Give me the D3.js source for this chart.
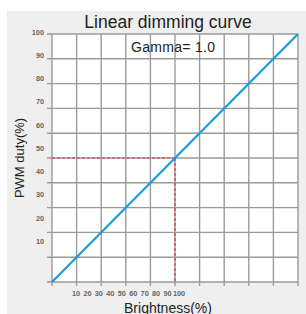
<!DOCTYPE html>
<meta charset="utf-8">
<head>
  <title>Linear dimming curve</title>
  <style>
    body { margin: 0; background: #fff; }
    text { font-family: "Liberation Sans", Arial, sans-serif; }
  </style>
</head>
<body>
<div id="chart"></div>
<script src="https://d3js.org/d3.v7.min.js"></script>
<script>

// data
var brightness = [0, 100];
var duty = [0, 100];
var markX = [50];          // dashed red guide, brightness
var markY = [50];          // dashed red guide, duty
var gridSteps = [0, 10, 20, 30, 40, 50, 60, 70, 80, 90, 100];
var xTickLabels = [10, 20, 30, 40, 50, 60, 70, 80, 90, 100];
var yTickLabels = [10, 20, 30, 40, 50, 60, 70, 80, 90, 100];

var W = 306, H = 314;
var pLeft = 52, pRight = 298, pTop = 34, pBottom = 282;

var svg = d3.select("#chart").append("svg")
    .attr("width", W)
    .attr("height", H);

// grey panel
svg.append("rect")
    .attr("x", 7).attr("y", 11)
    .attr("width", W - 7).attr("height", H - 11)
    .style("fill", "#eeefee");

var x = d3.scaleLinear().domain([0, 100]).range([pLeft, pRight]);
var y = d3.scaleLinear().domain([0, 100]).range([pBottom, pTop]);

// the labels in the original do not sit on the grid, they have their own spacing
var xl = d3.scaleLinear().domain([10, 100]).range([76, 179]);
var yl = d3.scaleLinear().domain([10, 100]).range([243, 34]);

svg.append("rect")
    .attr("x", pLeft).attr("y", pTop)
    .attr("width", pRight - pLeft).attr("height", pBottom - pTop)
    .style("fill", "#fff");

// grid
svg.append("g").selectAll("line")
    .data(gridSteps)
  .enter().append("line")
    .attr("x1", function(d) { return x(d); })
    .attr("x2", function(d) { return x(d); })
    .attr("y1", pTop)
    .attr("y2", pBottom + 4)
    .style("stroke", "#9a9a9a")
    .style("stroke-width", "1.4px");

svg.append("g").selectAll("line")
    .data(gridSteps)
  .enter().append("line")
    .attr("y1", function(d) { return y(d); })
    .attr("y2", function(d) { return y(d); })
    .attr("x1", pLeft - 5)
    .attr("x2", pRight)
    .style("stroke", "#9a9a9a")
    .style("stroke-width", "1.4px");

// dashed guide lines
svg.append("line")
    .attr("x1", x(0)).attr("x2", x(markX[0]))
    .attr("y1", y(markY[0])).attr("y2", y(markY[0]))
    .style("stroke", "#e2323f")
    .style("stroke-width", "1.2px")
    .style("stroke-dasharray", "3,2");
svg.append("line")
    .attr("x1", x(markX[0])).attr("x2", x(markX[0]))
    .attr("y1", y(markY[0])).attr("y2", y(0))
    .style("stroke", "#e2323f")
    .style("stroke-width", "1.2px")
    .style("stroke-dasharray", "3,2");

// the curve
var pts = brightness.map(function(b, i) { return [b, duty[i]]; });
svg.append("path")
    .datum(pts)
    .attr("d", d3.line()
        .x(function(d) { return x(d[0]); })
        .y(function(d) { return y(d[1]); }))
    .style("fill", "none")
    .style("stroke", "#1a9be0")
    .style("stroke-width", "2.2px");

// tick labels
svg.append("g").selectAll("text")
    .data(yTickLabels)
  .enter().append("text")
    .attr("x", 44)
    .attr("y", function(d) { return yl(d); })
    .attr("dy", "0.1em")
    .attr("text-anchor", "end")
    .style("font-size", "7.3px")
    .style("font-weight", "bold")
    .style("fill", "#666")
    .text(function(d) { return d; });

svg.append("g").selectAll("text")
    .data(xTickLabels)
  .enter().append("text")
    .attr("x", function(d) { return xl(d); })
    .attr("y", 296)
    .attr("text-anchor", "middle")
    .style("font-size", "7.3px")
    .style("font-weight", "bold")
    .style("fill", "#666")
    .text(function(d) { return d; });

// titles
svg.append("text")
    .attr("x", 168).attr("y", 28)
    .attr("text-anchor", "middle")
    .style("font-size", "17.5px")
    .style("fill", "#222")
    .text("Linear dimming curve");

svg.append("text")
    .attr("x", 131).attr("y", 52)
    .attr("textLength", 84)
    .style("font-size", "14px")
    .style("fill", "#222")
    .text("Gamma= 1.0");

svg.append("text")
    .attr("transform", "translate(24,158) rotate(-90)")
    .attr("text-anchor", "middle")
    .style("font-size", "13px")
    .style("fill", "#222")
    .text("PWM duty(%)");

svg.append("text")
    .attr("x", 168).attr("y", 313)
    .attr("text-anchor", "middle")
    .style("font-size", "14px")
    .style("fill", "#222")
    .text("Brightness(%)");

</script>
</body>
</html>
